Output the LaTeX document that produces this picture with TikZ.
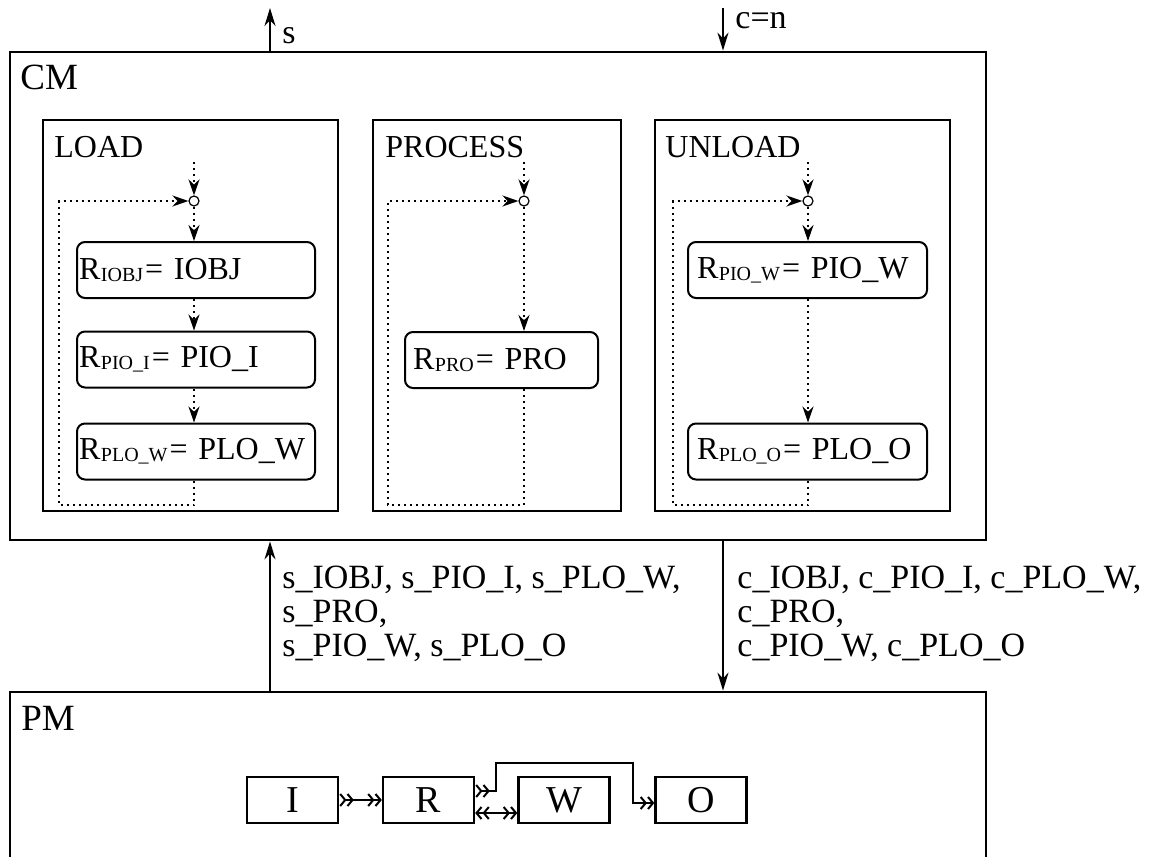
\documentclass[tikz,border=0pt]{standalone}
\usepackage{fontspec}
\setmainfont{Liberation Serif}
\usetikzlibrary{arrows.meta}

\newcommand{\rsub}[1]{\kern0.3pt\raisebox{-1pt}{\fontsize{10}{10}\selectfont #1}\kern1pt}

\tikzset{
  outer/.style={draw, line width=1.4pt, inner sep=0pt},
  phase/.style={draw, line width=1pt, inner sep=0pt, minimum width=147.5pt, minimum height=195.5pt},
  rbox/.style={draw, line width=1pt, rounded corners=4pt, minimum height=28pt, align=left, font=\fontsize{16}{18}\selectfont},
  junc/.style={circle, draw, line width=0.6pt, minimum size=5pt, inner sep=0pt, fill=white},
  flow/.style={dotted, line width=1pt, -{Stealth[length=8pt,width=5.5pt]}},
  sig/.style={line width=1pt, -{Stealth[length=9pt,width=5.5pt]}},
  pbox/.style={draw, line width=1.2pt, minimum width=45.5pt, minimum height=23pt, inner sep=0pt, font=\fontsize{19}{19}\selectfont},
  tot/.style={line width=1pt, {Straight Barb[reversed,length=2.5pt,width=6pt] Straight Barb[reversed,length=2.5pt,width=6pt]}-{Straight Barb[length=2.5pt,width=6pt] Straight Barb[length=2.5pt,width=6pt]}},
  bij/.style={line width=1pt, {Straight Barb[length=2.5pt,width=6pt] Straight Barb[length=2.5pt,width=6pt]}-{Straight Barb[length=2.5pt,width=6pt] Straight Barb[length=2.5pt,width=6pt]}},
  lbl/.style={inner sep=0pt, font=\fontsize{17}{17}\selectfont},
  ttl/.style={inner sep=0pt, anchor=base west, font=\fontsize{16}{18}\selectfont},
  big/.style={inner sep=0pt, anchor=base west, font=\fontsize{18.5}{20}\selectfont}
}

\begin{document}
\begin{tikzpicture}[x=0.5pt, y=-0.5pt]
    \useasboundingbox (0,0) rectangle (1163,857);
    \node[outer, minimum width=488pt, minimum height=244pt] (cm) at (498,296) {};
    \node[outer, minimum width=488pt, minimum height=110pt] (pm) at (498,802) {};
    \node[big] (cmt) at (20,89)
    {CM}; \node[big] (pmt) at (21,730)
    {PM};
    \coordinate (so) at (270,8); \coordinate (ci) at (723,8);
    \draw[sig] (cm.north -| so) -- (so);
    \draw[sig] (ci) -- (cm.north -| ci);
    \node[lbl, anchor=base west] (sl) at (282,43)
    {s}; \node[lbl, anchor=base west] (cl) at (735,28)
    {c=n};
    \node[phase] (load) at (190.5,315.5) {};
    \node[phase, minimum width=124pt] (proc) at (497,315.5) {};
    \node[phase] (unld) at (802.5,315.5) {};
    \node[ttl] (lt) at (54,157)
    {LOAD}; \node[ttl] (pt) at (385,157)
    {PROCESS}; \node[ttl] (ut) at (665,157)
    {UNLOAD};
    \node[junc] (j1) at (194,201) {};
    \node[junc] (j2) at (524,201) {};
    \node[junc] (j3) at (808,201) {};
    \coordinate (i1) at (194,162); \coordinate (i2) at (524,162); \coordinate (i3) at (808,162);
    \coordinate (l1) at (59,505); \coordinate (l2) at (388,505); \coordinate (l3) at (673,505);
    \node[rbox, text width=117pt, inner xsep=1pt] (b1) at (196,270)
    {R\rsub{IOBJ}= IOBJ}; \node[rbox, text width=117pt, inner xsep=1pt] (b2) at (196,359.5)
    {R\rsub{PIO\_I}= PIO\_I}; \node[rbox, text width=117pt, inner xsep=1pt] (b3) at (196,451.5)
    {R\rsub{PLO\_W}= PLO\_W};
    \node[rbox, text width=88.5pt, inner xsep=4pt] (b4) at (501.5,360)
    {R\rsub{PRO}= PRO};
    \node[rbox, text width=110.5pt, inner xsep=4.5pt] (b5) at (807.5,270)
    {R\rsub{PIO\_W}= PIO\_W}; \node[rbox, text width=110.5pt, inner xsep=4.5pt] (b6) at (807.5,451.5)
    {R\rsub{PLO\_O}= PLO\_O};
    \draw[flow] (i1) -- (j1);
    \draw[flow] (j1) -- (j1 |- b1.north);
    \draw[flow] (b1.south -| j1) -- (j1 |- b2.north);
    \draw[flow] (b2.south -| j1) -- (j1 |- b3.north);
    \draw[flow] (b3.south -| j1) |- (l1) |- (j1);
    \draw[flow] (i2) -- (j2);
    \draw[flow] (j2) -- (j2 |- b4.north);
    \draw[flow] (b4.south -| j2) |- (l2) |- (j2);
    \draw[flow] (i3) -- (j3);
    \draw[flow] (j3) -- (j3 |- b5.north);
    \draw[flow] (b5.south -| j3) -- (j3 |- b6.north);
    \draw[flow] (b6.south -| j3) |- (l3) |- (j3);
    \coordinate (su) at (270,616); \coordinate (cd) at (723,616);
    \draw[sig] (pm.north -| su) -- (cm.south -| su);
    \draw[sig] (cm.south -| cd) -- (pm.north -| cd);
    \node[lbl, anchor=north west, align=left] (sn) at (282,566)
    {s\_IOBJ, s\_PIO\_I, s\_PLO\_W,\\s\_PRO,\\s\_PIO\_W, s\_PLO\_O};
    \node[lbl, anchor=north west, align=left] (cn) at (737,566)
    {c\_IOBJ, c\_PIO\_I, c\_PLO\_W,\\c\_PRO,\\c\_PIO\_W, c\_PLO\_O};
    \node[pbox] (pi) at (292.5,800)
    {I}; \node[pbox] (pr) at (428.5,800)
    {R}; \node[pbox] (pw) at (564,800)
    {W}; \node[pbox] (po) at (701,800)
    {O};
    \coordinate (k1) at (496,763); \coordinate (k2) at (633,803);
    \draw[tot] (pi) -- (pr);
    \draw[bij] ([yshift=-6.5pt]pr.east) -- ([yshift=-6.5pt]pw.west);
    \draw[tot] ([yshift=4.5pt]pr.east) -| (k1) -| (k2) -- (k2 -| po.west);
  \end{tikzpicture}
\end{document}
